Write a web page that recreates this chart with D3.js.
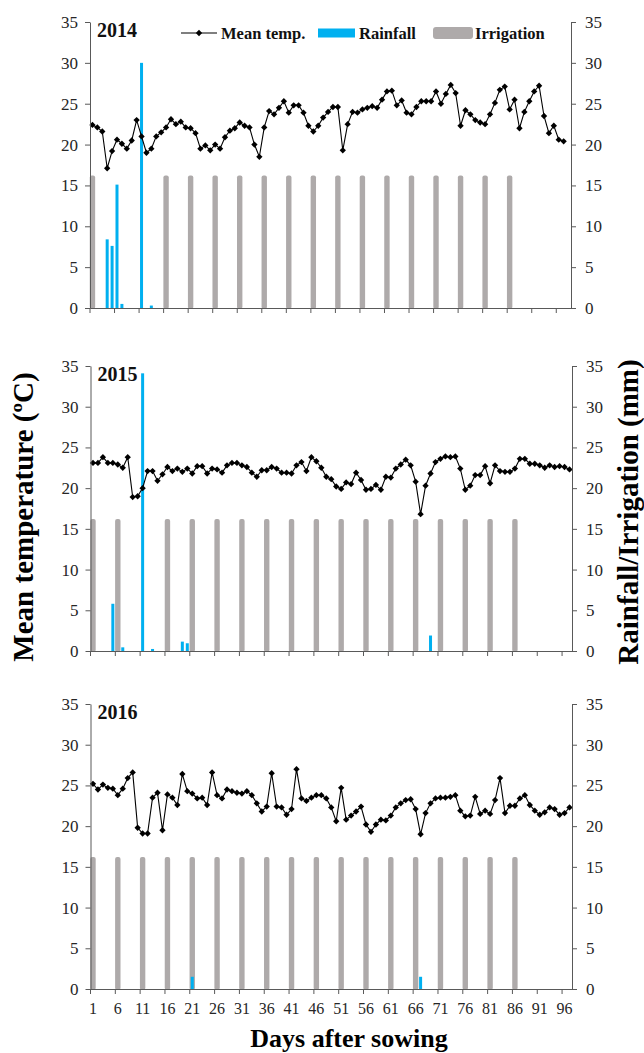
<!DOCTYPE html>
<html>
  <head>
    <meta charset="utf-8">
    <title>Mean temperature, rainfall and irrigation</title>
    <script type="text/javascript" src="https://d3js.org/d3.v7.min.js"></script>
    <style>
      body { margin: 0; background: #fff; }
      text { font-family: "Liberation Serif", "Times New Roman", serif; }
    </style>
  </head>
  <body>
    <svg width="644" height="1053"></svg>
    <script type="text/javascript">
      // values
      var years = ["2014", "2015", "2016"];
      var dayCounts = [98, 97, 97];

      var temp2014 = [22.4, 22.1, 21.6, 17.1, 19.2, 20.6, 20.1, 19.5, 20.5, 23.0,
        21.0, 19.0, 19.5, 21.0, 21.5, 22.1, 23.1, 22.5, 22.8, 22.1,
        22.0, 21.4, 19.5, 19.9, 19.3, 20.0, 19.5, 20.9, 21.7, 22.0,
        22.7, 22.3, 22.1, 20.0, 18.5, 22.1, 24.1, 23.7, 24.5, 25.3,
        23.9, 24.8, 24.8, 23.9, 22.3, 21.6, 22.3, 23.3, 24.0, 24.6,
        24.6, 19.3, 22.5, 24.0, 23.9, 24.3, 24.5, 24.7, 24.5, 25.5,
        26.5, 26.6, 24.8, 25.4, 23.9, 23.7, 24.6, 25.3, 25.3, 25.3,
        26.5, 25.0, 26.2, 27.3, 26.3, 22.3, 24.2, 23.7, 23.0, 22.7,
        22.5, 23.7, 25.1, 26.7, 27.1, 24.3, 25.5, 22.0, 24.0, 25.3,
        26.5, 27.2, 23.5, 21.4, 22.3, 20.6, 20.4];
      var temp2015 = [23.1, 23.1, 23.8, 23.1, 23.1, 22.9, 22.5, 23.8, 18.9, 19.0,
        20.0, 22.1, 22.1, 20.9, 21.7, 22.6, 22.1, 22.4, 22.0, 22.4,
        21.8, 22.7, 22.7, 21.8, 22.4, 22.3, 21.9, 22.8, 23.1, 23.1,
        22.8, 22.6, 21.9, 21.4, 22.2, 22.2, 22.6, 22.4, 21.9, 21.9,
        21.8, 22.8, 23.2, 22.1, 23.8, 23.3, 22.5, 21.4, 21.1, 20.2,
        19.9, 20.7, 20.5, 21.9, 21.0, 19.8, 19.9, 20.4, 19.8, 21.4,
        21.3, 22.4, 22.9, 23.5, 22.8, 20.8, 16.8, 20.3, 21.8, 23.2,
        23.6, 23.9, 23.8, 23.9, 22.4, 19.8, 20.3, 21.6, 21.6, 22.7,
        20.6, 22.8, 22.1, 22.0, 22.0, 22.4, 23.6, 23.6, 23.0, 23.0,
        22.8, 22.5, 22.8, 22.6, 22.7, 22.6, 22.3];
      var temp2016 = [25.2, 24.5, 25.1, 24.7, 24.6, 23.8, 24.6, 25.9, 26.6, 19.8,
        19.1, 19.1, 23.5, 24.1, 19.5, 23.9, 23.5, 22.6, 26.4, 24.3,
        24.0, 23.4, 23.5, 22.6, 26.6, 23.8, 23.4, 24.5, 24.3, 24.1,
        24.0, 24.3, 23.8, 22.8, 21.8, 22.4, 26.5, 22.4, 22.3, 21.4,
        22.1, 27.0, 23.4, 23.1, 23.5, 23.8, 23.8, 23.4, 22.3, 20.6,
        24.7, 20.8, 21.3, 21.8, 22.4, 20.2, 19.3, 20.2, 20.8, 20.7,
        21.3, 22.3, 22.8, 23.2, 23.3, 22.1, 19.0, 21.6, 22.8, 23.4,
        23.5, 23.5, 23.6, 23.8, 21.9, 21.2, 21.3, 23.6, 21.5, 21.9,
        21.5, 23.2, 25.9, 21.6, 22.5, 22.5, 23.4, 23.8, 22.6, 21.9,
        21.4, 21.7, 22.3, 22.1, 21.4, 21.6, 22.3];

      var rainDays2014 = [4, 5, 6, 7, 11, 13];
      var rain2014 = [8.4, 7.6, 15.1, 0.5, 30.0, 0.3];
      var rainDays2015 = [5, 7, 11, 13, 19, 20, 69];
      var rain2015 = [5.8, 0.45, 34.1, 0.25, 1.15, 0.95, 1.9];
      var rainDays2016 = [21, 67];
      var rain2016 = [1.5, 1.5];

      var irrigDays2014 = [1, 16, 21, 26, 31, 36, 41, 46, 51, 56, 61, 66, 71, 76, 81, 86];
      var irrigDays2015 = [1, 6, 16, 21, 26, 31, 36, 41, 46, 51, 56, 61, 66, 71, 76, 81, 86];
      var irrigDays2016 = [1, 6, 11, 16, 21, 26, 31, 36, 41, 46, 51, 56, 61, 66, 71, 76, 81, 86];
      var irrigAmount = 16.2;

      var yTicks = [0, 5, 10, 15, 20, 25, 30, 35];
      var xTickDays = [1, 6, 11, 16, 21, 26, 31, 36, 41, 46, 51, 56, 61, 66, 71, 76, 81, 86, 91, 96];

      var temps = [temp2014, temp2015, temp2016];
      var rainDays = [rainDays2014, rainDays2015, rainDays2016];
      var rains = [rain2014, rain2015, rain2016];
      var irrigDays = [irrigDays2014, irrigDays2015, irrigDays2016];

      // layout
      var panelTop = [22, 366, 704];
      var panelBottom = [308, 651, 989];
      var xRanges = [[90, 571], [90.5, 572], [90.5, 572]];
      var axisColor = "#595959";
      var rainColor = "#00B0F0";
      var irrigColor = "#AEAAAA";

      var svg = d3.select("svg");

      years.forEach(function (year, p) {
        var days = d3.range(1, dayCounts[p] + 1);
        var x = d3.scaleBand().domain(days).range(xRanges[p]).padding(0);
        var y = d3.scaleLinear().domain([0, 35]).range([panelBottom[p], panelTop[p]]);
        var bw = x.bandwidth();
        var g = svg.append("g");

        // irrigation bars
        g.selectAll("rect.irrig")
          .data(irrigDays[p])
          .enter().append("rect")
          .attr("class", "irrig")
          .attr("x", function (d) { return x(d) + bw / 2 - 2.7; })
          .attr("width", 5.4)
          .attr("y", y(irrigAmount))
          .attr("height", y(0) - y(irrigAmount) + 1)
          .attr("rx", 2)
          .attr("fill", irrigColor);

        // rainfall bars
        var rainData = rainDays[p].map(function (d, i) { return { day: d, v: rains[p][i] }; });
        g.selectAll("rect.rain")
          .data(rainData)
          .enter().append("rect")
          .attr("class", "rain")
          .attr("x", function (d) { return x(d.day) + bw / 2 - 1.5; })
          .attr("width", 3)
          .attr("y", function (d) { return y(d.v); })
          .attr("height", function (d) { return y(0) - y(d.v); })
          .attr("fill", rainColor);

        // temperature line
        var line = d3.line()
          .x(function (d, i) { return x(i + 1) + bw / 2; })
          .y(function (d) { return y(d); });
        g.append("path")
          .datum(temps[p])
          .attr("d", line)
          .attr("fill", "none")
          .attr("stroke", "#000")
          .attr("stroke-width", 1.1);
        g.selectAll("path.mark")
          .data(temps[p])
          .enter().append("path")
          .attr("class", "mark")
          .attr("d", d3.symbol().type(d3.symbolSquare).size(20))
          .attr("transform", function (d, i) {
            return "translate(" + (x(i + 1) + bw / 2) + "," + y(d) + ") rotate(45)";
          })
          .attr("fill", "#000");

        // axes
        var leftAxis = d3.axisLeft(y).tickValues(yTicks).tickSize(5).tickSizeOuter(0).tickPadding(7);
        var rightAxis = d3.axisRight(y).tickValues(yTicks).tickSize(5).tickSizeOuter(0).tickPadding(9);
        var gl = g.append("g").attr("transform", "translate(" + xRanges[p][0] + ",0)").call(leftAxis);
        var gr = g.append("g").attr("transform", "translate(" + xRanges[p][1] + ",0)").call(rightAxis);
        [gl, gr].forEach(function (a) {
          a.select(".domain").attr("stroke", axisColor);
          a.selectAll(".tick line").attr("stroke", axisColor);
          a.selectAll(".tick text")
            .attr("font-size", 17)
            .attr("font-family", "Liberation Serif")
            .attr("fill", "#262626");
        });

        var bottomAxis = d3.axisBottom(x).tickValues(xTickDays).tickSize(5).tickSizeOuter(0).tickPadding(9);
        var gb = g.append("g").attr("transform", "translate(0," + panelBottom[p] + ")").call(bottomAxis);
        gb.select(".domain").attr("stroke", axisColor);
        gb.selectAll(".tick line").attr("stroke", axisColor).attr("x1", -bw / 2).attr("x2", -bw / 2);
        gb.selectAll(".tick text")
          .attr("font-size", 16)
          .attr("font-family", "Liberation Serif")
          .attr("fill", "#262626");
        if (p < 2) gb.selectAll(".tick text").remove();

        // year label
        g.append("text")
          .attr("x", xRanges[p][0] + 7)
          .attr("y", panelTop[p] + 14.5)
          .attr("font-size", 20)
          .attr("font-weight", "bold")
          .attr("fill", "#111")
          .text(year);
      });

      // legend (top panel)
      var lg = svg.append("g").attr("font-size", 16.5).attr("font-weight", "bold").attr("fill", "#111");
      lg.append("line").attr("x1", 181).attr("x2", 217).attr("y1", 33).attr("y2", 33)
        .attr("stroke", "#000").attr("stroke-width", 1.1);
      lg.append("path").attr("d", d3.symbol().type(d3.symbolSquare).size(20))
        .attr("transform", "translate(199,33) rotate(45)").attr("fill", "#000");
      lg.append("text").attr("x", 221).attr("y", 38.5).text("Mean temp.");
      lg.append("rect").attr("x", 318).attr("y", 28.5).attr("width", 37).attr("height", 9).attr("fill", rainColor);
      lg.append("text").attr("x", 359).attr("y", 38.5).text("Rainfall");
      lg.append("rect").attr("x", 433).attr("y", 27).attr("width", 40).attr("height", 12).attr("rx", 3).attr("fill", irrigColor);
      lg.append("text").attr("x", 475).attr("y", 38.5).text("Irrigation");

      // axis titles
      svg.append("text")
        .attr("transform", "translate(33,517) rotate(-90)")
        .attr("text-anchor", "middle")
        .attr("font-size", 29)
        .attr("font-weight", "bold")
        .text("Mean temperature (\u00BAC)");
      svg.append("text")
        .attr("transform", "translate(638,512) rotate(-90)")
        .attr("text-anchor", "middle")
        .attr("font-size", 29)
        .attr("font-weight", "bold")
        .text("Rainfall/Irrigation (mm)");
      svg.append("text")
        .attr("x", 349)
        .attr("y", 1047)
        .attr("text-anchor", "middle")
        .attr("font-size", 26)
        .attr("font-weight", "bold")
        .text("Days after sowing");
    </script>
  </body>
</html>
